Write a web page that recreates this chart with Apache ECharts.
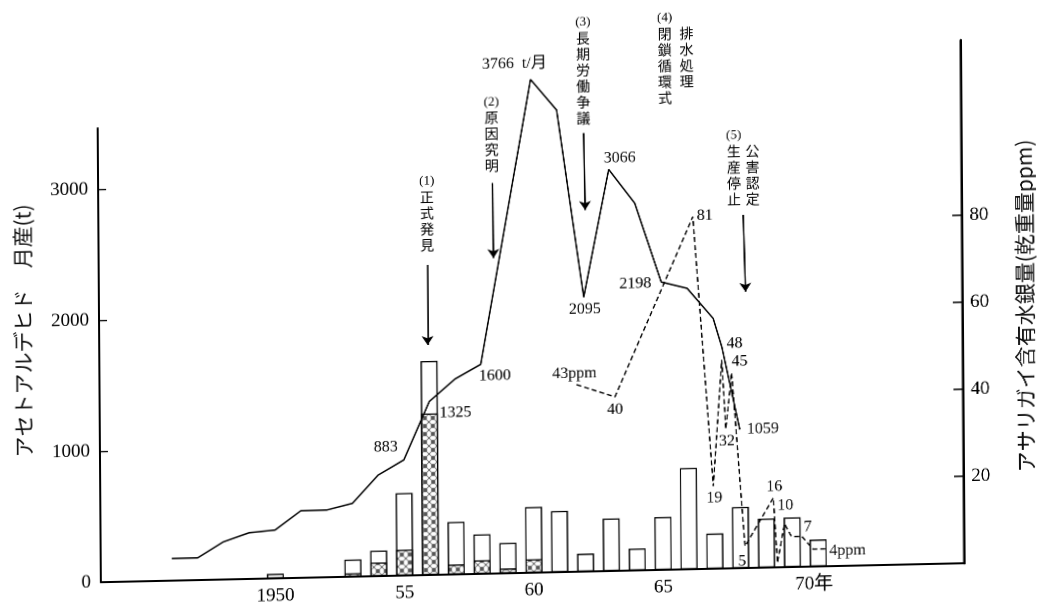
<!DOCTYPE html>
<html><head><meta charset="utf-8">
<script src="https://cdn.jsdelivr.net/npm/echarts@6/dist/echarts.min.js"></script>
<style>
html,body{margin:0;padding:0;background:#fff;overflow:hidden}
#c{width:1037px;height:608px;transform:matrix(1,-0.022,0.007,1,0,0);transform-origin:518.5px 304px;}
</style></head><body><div id="c"></div>
<script>
// ---- data ----
const prodYears  = [1946,1947,1948,1949,1950,1951,1952,1953,1954,1955,1956,1957,1958,1960,1961,1962,1963,1964,1965,1966,1967,1967.33,1968];
const prodValues = [170,170,288,353,369,512,513,560,771,883,1325,1492,1600,3766,3528,2095,3066,2803,2198,2145,1911,1690,1059];

const barYears   = [1950,1953,1954,1955,1956,1957,1958,1959,1960,1961,1962,1963,1964,1965,1966,1967,1968,1969,1970,1971];
const barTotals  = [35,131,195,630,1634,401,302,232,502,467,137,401,167,404,773,269,467,374,379,206];
const barHatched = [0,27,104,198,1233,76,104,37,103,0,0,0,0,0,0,0,0,0,0,0];

const hgYears  = [1961.70,1963.18,1966.24,1966.96,1967.32,1967.46,1967.70,1968.17,1969.28,1969.42,1969.70,1969.97,1970.37,1970.80,1971.32];
const hgValues = [43,40,81,19,48,32,45,5,16,1,10,7,7,4,4];

const xTickValues     = [1950,1955,1960,1965,1970];
const leftTickValues  = [0,1000,2000,3000];
const rightTickValues = [20,40,60,80];

const prodLabelYears  = [1955,1956,1958,1960,1962,1963,1965,1968];
const prodLabelSuffix = {1960:'  t/月'};
const hgLabelIdx      = [0,1,2,3,4,5,6,7,8,10,12,14];
const hgLabelSuffix   = {0:'ppm',14:'ppm'};

const noteNums  = ['(1)','(2)','(3)','(4)','','(5)',''];
const noteTexts = ['正式発見','原因究明','長期労働争議','閉鎖循環式','排水処理','生産停止','公害認定'];
const noteAnchors = [[1955.96,2763],[1958.48,3356],[1962.04,3829],[1965.20,3907],[1966.04,3907],[1967.84,3060],[1968.56,2999]];
const arrowLines  = [[1955.95,2367,1955.95,1756],[1958.50,2982,1958.52,2409],[1962.04,3348,1962.08,2760],[1965.65,3485,1965.71,2912],[1968.19,2696,1968.26,2109]];

// ---- styles (label offsets in px) ----
const prodLabelOffset = {1955:[-18,-13],1956:[26,12],1958:[14,12],1960:[-16,-16],1962:[1,12],1963:[11,-11],1965:[-26,1],1968:[23,0]};
const hgLabelOffset   = {0:[-2,-11],1:[0,13],2:[12,-1],3:[1,12],4:[13,-16],5:[1,12],6:[8,-11],7:[-3,15],8:[1,-11],10:[1,-18],12:[6,-9],14:[21,2]};

const INK = '#000';
const SERIF = "'Liberation Serif','Noto Sans CJK JP',serif";
const CJK = "'Noto Sans CJK JP',sans-serif";

// hatch pattern (light cross-hatch)
const pc = document.createElement('canvas'); pc.width = 8; pc.height = 8;
const g = pc.getContext('2d'); g.fillStyle = '#fff'; g.fillRect(0,0,8,8);
g.strokeStyle = '#555'; g.lineWidth = 1;
g.beginPath();
g.moveTo(-1,-1); g.lineTo(9,9);
g.moveTo(9,-1); g.lineTo(-1,9);
g.moveTo(3,-1); g.lineTo(-1,3); g.moveTo(5,-1); g.lineTo(9,3);
g.moveTo(-1,5); g.lineTo(3,9); g.moveTo(9,5); g.lineTo(5,9);
g.stroke();

const X_MIN = 1943.25, X_MAX = 1976.63;

const chart = echarts.init(document.getElementById('c'), null, {renderer:'canvas', devicePixelRatio:2});

const prodLabelData = prodLabelYears.map(y => {
  const i = prodYears.indexOf(y);
  return {value:[y, prodValues[i]], label:{formatter: String(prodValues[i]) + (prodLabelSuffix[y] || ''), offset: prodLabelOffset[y]}};
});
const hgLabelData = hgLabelIdx.map(i => ({
  value:[hgYears[i], hgValues[i]],
  label:{formatter: String(hgValues[i]) + (hgLabelSuffix[i] || ''), offset: hgLabelOffset[i]}
}));
const noteData = noteTexts.map((t,i) => {
  const parts = [];
  if (noteNums[i]) parts.push('{n|' + noteNums[i] + '}');
  t.split('').forEach(ch => parts.push('{c|' + ch + '}'));
  return {value: noteAnchors[i], label:{formatter: parts.join('\n')}};
});
const hatchedData = [];
barYears.forEach((y,i) => { if (barHatched[i] > 0) hatchedData.push([y, barHatched[i]]); });

const labelBase = {show:true, position:[0.5,0.5], color:INK, opacity:1, textBorderWidth:0, fontFamily:SERIF, fontSize:16, align:'center', verticalAlign:'middle'};

chart.setOption({
  animation:false,
  backgroundColor:'#fff',
  grid:[
    {left:99, right:75, top:119, bottom:35},
    {left:99, right:75, top:50, bottom:35}
  ],
  xAxis:[
    {gridIndex:0, type:'value', min:X_MIN, max:X_MAX,
     axisLine:{show:true, lineStyle:{color:INK, width:2}},
     axisTick:{show:false}, splitLine:{show:false},
     axisLabel:{customValues:xTickValues, margin:8, color:INK, fontFamily:SERIF, fontSize:19,
       formatter: v => v === 1950 ? '1950' : (v === 1970 ? '{s|70年}' : String(v).slice(2)),
       rich:{s:{fontFamily:SERIF, fontSize:19, color:INK, padding:[0,0,0,43]}}}},
    {gridIndex:1, type:'value', min:X_MIN, max:X_MAX, show:false}
  ],
  yAxis:[
    {gridIndex:0, type:'value', min:0, max:3466, position:'left',
     axisLine:{show:true, lineStyle:{color:INK, width:2}},
     axisTick:{show:true, inside:true, length:8, customValues:[1000,2000,3000], lineStyle:{color:INK, width:1.3}},
     axisLabel:{customValues:leftTickValues, margin:10, color:INK, fontFamily:SERIF, fontSize:19, formatter: v => String(v)},
     splitLine:{show:false}},
    {gridIndex:1, type:'value', min:0, max:120.2, position:'right',
     axisLine:{show:true, lineStyle:{color:INK, width:2.5}},
     axisTick:{show:true, inside:true, length:9, customValues:rightTickValues, lineStyle:{color:INK, width:1.5}},
     axisLabel:{customValues:rightTickValues, margin:8, color:INK, fontFamily:SERIF, fontSize:19, formatter: v => String(v)},
     splitLine:{show:false}}
  ],
  graphic:[
    {type:'text', x:23, y:320, rotation:Math.PI/2, silent:true,
     style:{text:'アセトアルデヒド　月産(t)', fontFamily:CJK, fontSize:21, fill:'#111', align:'center', verticalAlign:'middle'}},
    {type:'text', x:1025, y:317, rotation:Math.PI/2, silent:true,
     style:{text:'アサリガイ含有水銀量(乾重量ppm)', fontFamily:CJK, fontSize:21, fill:'#111', align:'center', verticalAlign:'middle'}}
  ],
  series:[
    {type:'bar', name:'total', xAxisIndex:0, yAxisIndex:0, barWidth:17, barGap:'-100%', silent:true, z:2,
     data: barYears.map((y,i) => [y, barTotals[i]]),
     itemStyle:{color:'#fff', borderColor:INK, borderWidth:1.3}},
    {type:'bar', name:'hatched', xAxisIndex:0, yAxisIndex:0, barWidth:17, barGap:'-100%', silent:true, z:3,
     data: hatchedData,
     itemStyle:{color:{image:pc, repeat:'repeat'}, borderColor:INK, borderWidth:1.3}},
    {type:'line', name:'production', xAxisIndex:0, yAxisIndex:0, clip:false, silent:true, z:5,
     symbol:'none', data: prodYears.map((y,i) => [y, prodValues[i]]),
     lineStyle:{color:INK, width:1.5},
     markLine:{silent:true, symbol:['none','arrow'], symbolSize:9, label:{show:false},
       lineStyle:{color:INK, width:1.6, type:'solid'},
       data: arrowLines.map(a => [{coord:[a[0],a[1]]},{coord:[a[2],a[3]]}])}},
    {type:'line', name:'mercury', xAxisIndex:1, yAxisIndex:1, clip:false, silent:true, z:5,
     symbol:'none', data: hgYears.map((y,i) => [y, hgValues[i]]),
     lineStyle:{color:INK, width:1.4, type:[5,3]}},
    {type:'scatter', name:'prodLabels', xAxisIndex:0, yAxisIndex:0, clip:false, silent:true, z:6,
     symbolSize:1, itemStyle:{color:'#fff', opacity:0}, label:labelBase, data:prodLabelData},
    {type:'scatter', name:'hgLabels', xAxisIndex:1, yAxisIndex:1, clip:false, silent:true, z:6,
     symbolSize:1, itemStyle:{color:'#fff', opacity:0}, label:labelBase, data:hgLabelData},
    {type:'scatter', name:'notes', xAxisIndex:0, yAxisIndex:0, clip:false, silent:true, z:6,
     symbolSize:1, itemStyle:{color:'#fff', opacity:0},
     label:{show:true, position:[0.5,0.5], align:'center', verticalAlign:'middle', color:INK, opacity:1, textBorderWidth:0,
       rich:{n:{fontFamily:SERIF, fontSize:13, lineHeight:16, color:INK},
             c:{fontFamily:CJK, fontSize:14, lineHeight:16, color:INK}}},
     data:noteData}
  ]
});
</script></body></html>
